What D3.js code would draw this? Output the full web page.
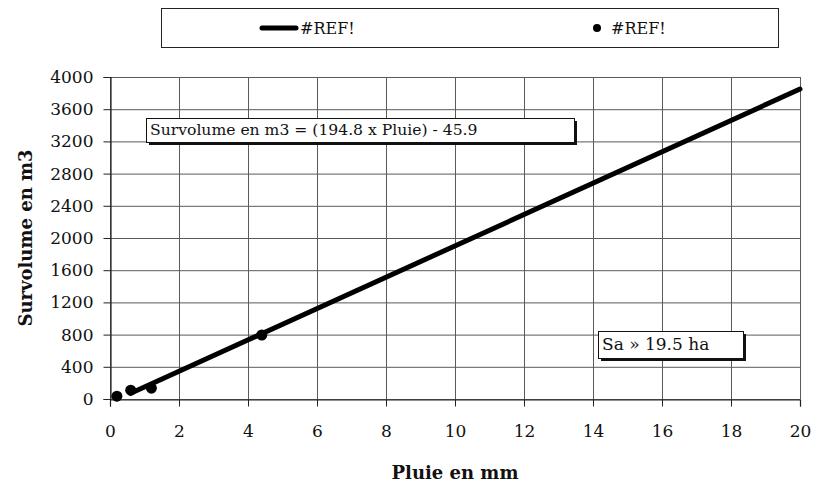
<!DOCTYPE html>
<html>
<head>
<meta charset="utf-8">
<script src="https://cdn.jsdelivr.net/npm/d3@7"></script>
<style>
  html, body { margin: 0; padding: 0; background: #fff; }
  svg { display: block; }
  text { font-family: "DejaVu Serif", serif; fill: #111; }
</style>
</head>
<body>
<svg id="chart" width="813" height="490"></svg>
<script>
// Observed survolume (m3) against rainfall (mm)
const pluieObs = [0.2, 0.6, 1.2, 4.4];
const survObs = [35, 110, 135, 795];

// Fitted regression line end points: Survolume = 194.8 x Pluie - 45.9
const pluieFit = [0.6, 20];
const survFit = [71, 3850];

const xTicks = [0, 2, 4, 6, 8, 10, 12, 14, 16, 18, 20];
const yTicks = [0, 400, 800, 1200, 1600, 2000, 2400, 2800, 3200, 3600, 4000];
const legendLabels = ["#REF!", "#REF!"];
const equationLabel = "Survolume en m3 = (194.8 x Pluie) - 45.9";
const areaLabel = "Sa \u00bb 19.5 ha";

const svg = d3.select("#chart");
const plotL = 110, plotR = 800, plotT = 77, plotB = 399;

const x = d3.scaleLinear().domain([0, 20]).range([plotL, plotR]);
const y = d3.scaleLinear().domain([0, 4000]).range([plotB, plotT]);

// Grid
const grid = svg.append("g").attr("stroke", "#5a5a5a").attr("stroke-width", 1);
grid.selectAll("line.v").data(xTicks).join("line")
  .attr("x1", d => x(d) + 0.5).attr("x2", d => x(d) + 0.5)
  .attr("y1", plotT).attr("y2", plotB);
grid.selectAll("line.h").data(yTicks).join("line")
  .attr("x1", plotL).attr("x2", plotR)
  .attr("y1", d => y(d) + 0.5).attr("y2", d => y(d) + 0.5);

// Axes
const xAxis = svg.append("g").attr("transform", `translate(0,${plotB + 0.5})`)
  .call(d3.axisBottom(x).tickValues(xTicks).tickSize(7).tickPadding(18));
const yAxis = svg.append("g").attr("transform", `translate(${plotL + 0.5},0)`)
  .call(d3.axisLeft(y).tickValues(yTicks).tickSize(7).tickPadding(10).tickFormat(d3.format("d")));
[xAxis, yAxis].forEach(g => {
  g.select(".domain").attr("stroke", "#222").attr("stroke-width", 1.2);
  g.selectAll(".tick line").attr("stroke", "#222");
  g.selectAll(".tick text").attr("font-family", "DejaVu Serif, serif").attr("font-size", 17).attr("fill", "#111");
});

// Fitted line
svg.append("path")
  .datum(pluieFit.map((p, i) => [p, survFit[i]]))
  .attr("fill", "none").attr("stroke", "#000").attr("stroke-width", 5).attr("stroke-linecap", "round")
  .attr("d", d3.line().x(d => x(d[0])).y(d => y(d[1])));

// Observed points
svg.selectAll("circle.obs").data(pluieObs).join("circle")
  .attr("cx", d => x(d)).attr("cy", (d, i) => y(survObs[i])).attr("r", 5.5).attr("fill", "#000");

// Boxed labels with drop shadow
function boxLabel(bx, by, w, h, label, fs) {
  const g = svg.append("g");
  g.append("rect").attr("x", bx + 3).attr("y", by + 3).attr("width", w).attr("height", h).attr("fill", "#111");
  g.append("rect").attr("x", bx + 0.5).attr("y", by + 0.5).attr("width", w).attr("height", h)
    .attr("fill", "#fff").attr("stroke", "#111").attr("stroke-width", 1);
  g.append("text").attr("x", bx + 4).attr("y", by + h / 2 + 1).attr("dominant-baseline", "middle")
    .attr("font-size", fs).text(label);
}
boxLabel(146, 118, 428, 24, equationLabel, 15.6);
boxLabel(598, 331, 145, 27, areaLabel, 17);

// Axis titles
svg.append("text").attr("x", (plotL + plotR) / 2).attr("y", 479).attr("text-anchor", "middle")
  .attr("font-size", 18).attr("font-weight", "bold").text("Pluie en mm");
svg.append("text").attr("transform", `translate(27,${(plotT + plotB) / 2}) rotate(-90)`)
  .attr("text-anchor", "middle").attr("dominant-baseline", "middle")
  .attr("font-size", 18).attr("font-weight", "bold").text("Survolume en m3");

// Legend
const lg = svg.append("g");
lg.append("rect").attr("x", 161.5).attr("y", 8.5).attr("width", 617).attr("height", 39)
  .attr("fill", "#fff").attr("stroke", "#222").attr("stroke-width", 1);
lg.append("line").attr("x1", 262).attr("x2", 296).attr("y1", 28).attr("y2", 28)
  .attr("stroke", "#000").attr("stroke-width", 5).attr("stroke-linecap", "round");
lg.append("text").attr("x", 300).attr("y", 29).attr("dominant-baseline", "middle")
  .attr("font-size", 16).text(legendLabels[0]);
lg.append("circle").attr("cx", 597).attr("cy", 28).attr("r", 4).attr("fill", "#000");
lg.append("text").attr("x", 611).attr("y", 29).attr("dominant-baseline", "middle")
  .attr("font-size", 16).text(legendLabels[1]);
</script>
</body>
</html>
